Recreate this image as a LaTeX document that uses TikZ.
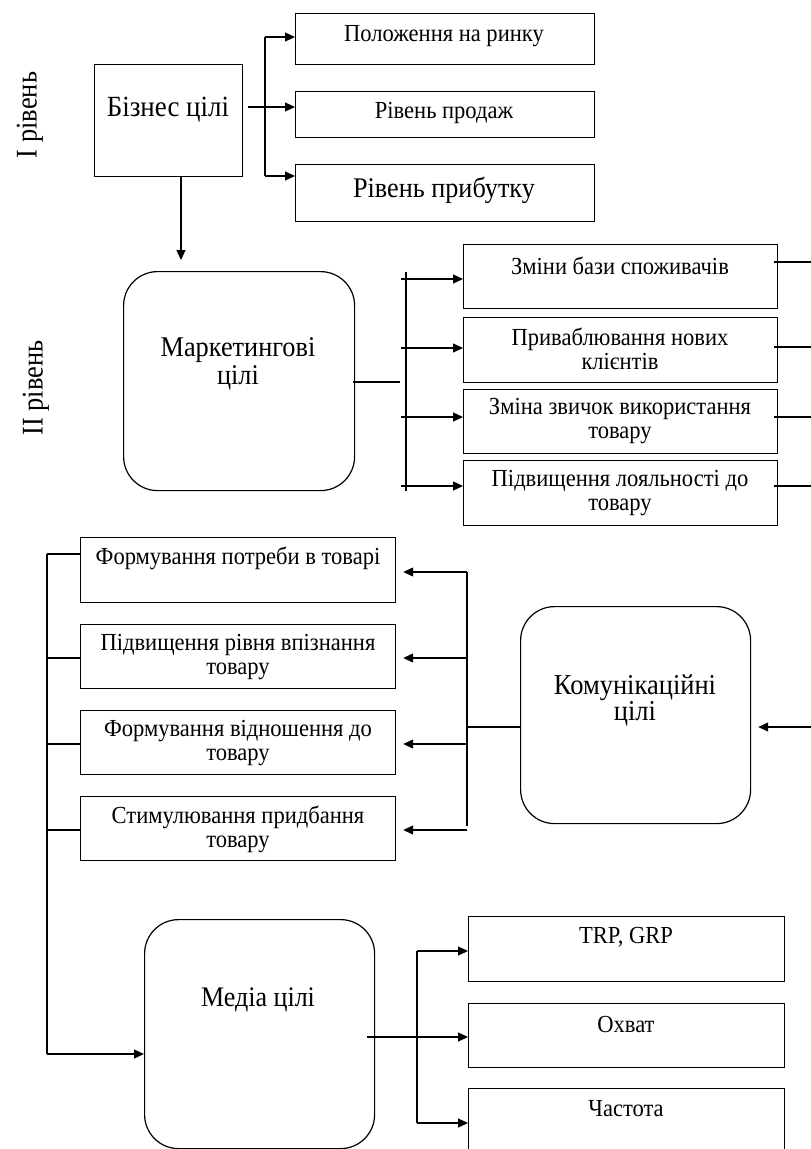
\documentclass[tikz,border=0pt]{standalone}
\usepackage{fontspec}
\setmainfont{Liberation Serif}[FakeStretch=0.92]
\newfontfamily\lvlfont{Liberation Serif}[FakeStretch=0.88]
\usetikzlibrary{arrows.meta,calc}
\newcommand\fsz[2]{\fontsize{#1}{#2}\selectfont}
\tikzset{
  box/.style={draw, line width=1.2pt, inner sep=0pt, anchor=north west},
  rbox/.style={box, rounded corners=34pt},
  lbl/.style={inner sep=0pt, align=center, font=\fsz{24.5}{24}},
  conn/.style={line width=1.2pt},
  arr/.style={conn, -{Triangle[length=10pt,width=9pt]}},
  lvl/.style={inner sep=0pt, rotate=90, font=\lvlfont\fsz{30}{32}},
}
\begin{document}
\begin{tikzpicture}[x=1pt,y=-1pt]
\clip (0,0) rectangle (811,1149);
\fill[white] (0,0) rectangle (811,1149);
% level labels
\node[lvl] (l1) at (30,115) {І рівень};
\node[lvl] (l2) at (36,388) {ІІ рівень};
% ---- Level I
\node[box, minimum width=148pt, minimum height=112pt] (biz) at (94,64) {};
\node[lbl, font=\fsz{29.3}{31}] (tbiz) at (168,110) {Бізнес цілі};
\node[box, minimum width=299pt, minimum height=51pt] (pol) at (295,13) {};
\node[lbl] (tpol) at (444,36) {Положення на ринку};
\node[box, minimum width=299pt, minimum height=46pt] (prod) at (295,91) {};
\node[lbl] (tprod) at (444,113) {Рівень продаж};
\node[box, minimum width=299pt, minimum height=57pt] (prib) at (295,164) {};
\node[lbl, font=\fsz{28.5}{29}] (tprib) at (444,190) {Рівень прибутку};
\coordinate (bt) at (265,37);
\coordinate (bb) at (265,176);
\coordinate (bm) at (248,107);
\draw[conn] (bt) -- (bb);
\draw[arr] (bt) -- (bt -| pol.west);
\draw[arr] (bb) -- (bb -| prib.west);
\draw[arr] (bm) -- (bm -| prod.west);
\coordinate (dn) at (181,260);
\draw[arr] (dn |- biz.south) -- (dn);
% ---- Level II
\node[rbox, minimum width=231pt, minimum height=219pt] (mkt) at (123,271) {};
\node[lbl, font=\fsz{28.6}{28}] (tmkt) at (238,364) {Маркетингові\\цілі};
\coordinate (mj) at (400,382);
\draw[conn] ($(mkt.east |- mj)+(-2,0)$) -- (mj);
\coordinate (vt) at (406,272);
\coordinate (vb) at (406,491);
\draw[conn] (vt) -- (vb);
\node[box, minimum width=314pt, minimum height=64pt] (m1) at (463,244) {};
\node[box, minimum width=314pt, minimum height=65pt] (m2) at (463,317) {};
\node[box, minimum width=314pt, minimum height=64pt] (m3) at (463,389) {};
\node[box, minimum width=314pt, minimum height=65pt] (m4) at (463,460) {};
\node[lbl] (tm1) at (620,266) {Зміни бази споживачів};
\node[lbl] (tm2) at (620,349) {Приваблювання нових\\клієнтів};
\node[lbl] (tm3) at (620,421) {Зміна звичок використання\\товару};
\node[lbl] (tm4) at (620,493) {Підвищення лояльності до\\товару};
\foreach \b/\y in {m1/279, m2/348, m3/417, m4/486}{
  \draw[arr] (401,\y) -- (\b.west |- 0,\y);
}
\foreach \b/\y in {m1/262, m2/347, m3/417, m4/486}{
  \draw[conn] ($(\b.east |- 0,\y)+(-4,0)$) -- (811,\y);
}
% ---- Level III
\node[box, minimum width=315pt, minimum height=65pt] (c1) at (80,537) {};
\node[box, minimum width=315pt, minimum height=64pt] (c2) at (80,624) {};
\node[box, minimum width=315pt, minimum height=64pt] (c3) at (80,710) {};
\node[box, minimum width=315pt, minimum height=64pt] (c4) at (80,796) {};
\node[lbl] (tc1) at (238,558) {Формування потреби в товарі};
\node[lbl] (tc2) at (238,657) {Підвищення рівня впізнання\\товару};
\node[lbl] (tc3) at (238,743) {Формування відношення до\\товару};
\node[lbl] (tc4) at (238,829) {Стимулювання придбання\\товару};
\node[rbox, minimum width=230pt, minimum height=217pt] (kom) at (520,606) {};
\node[lbl, font=\fsz{28.8}{26}] (tkom) at (635,700) {Комунікаційні\\цілі};
\coordinate (kj) at (467,727);
\draw[conn] (kom.west |- kj) -- (kj);
\draw[conn] (467,572) -- (467,826);
\foreach \b/\y in {c1/572, c2/658, c3/744, c4/830}{
  \draw[arr] (467,\y) -- ($(\b.east |- 0,\y)+(7,0)$);
}
\coordinate (ke) at (811,727);
\draw[arr] (ke) -- ($(kom.east |- ke)+(7,0)$);
% left bus
\coordinate (lt) at (47,554);
\coordinate (lb) at (47,1054);
\draw[conn] (lt) -- (lb);
\foreach \b/\y in {c1/554, c2/658, c3/744, c4/830}{
  \draw[conn] (47,\y) -- (\b.west |- 0,\y);
}
% ---- Level IV
\node[rbox, minimum width=230pt, minimum height=229pt] (med) at (144,919) {};
\node[lbl, font=\fsz{28.3}{30}] (tmed) at (258,1000) {Медіа цілі};
\draw[arr] (lb) -- (lb -| med.west);
\node[box, minimum width=316pt, minimum height=65pt] (d1) at (468,916) {};
\node[box, minimum width=316pt, minimum height=64pt] (d2) at (468,1003) {};
\node[box, minimum width=316pt, minimum height=120pt] (d3) at (468,1088) {};
\node[lbl] (td1) at (626,937) {TRP, GRP};
\node[lbl] (td2) at (626,1024) {Охват};
\node[lbl] (td3) at (626,1109) {Частота};
\coordinate (mdj) at (367,1037);
\draw[arr] (mdj) -- (mdj -| d2.west);
\coordinate (mt) at (417,951);
\coordinate (mb) at (417,1123);
\draw[conn] (mt) -- (mb);
\draw[arr] (mt) -- (mt -| d1.west);
\draw[arr] (mb) -- (mb -| d3.west);
\end{tikzpicture}
\end{document}
